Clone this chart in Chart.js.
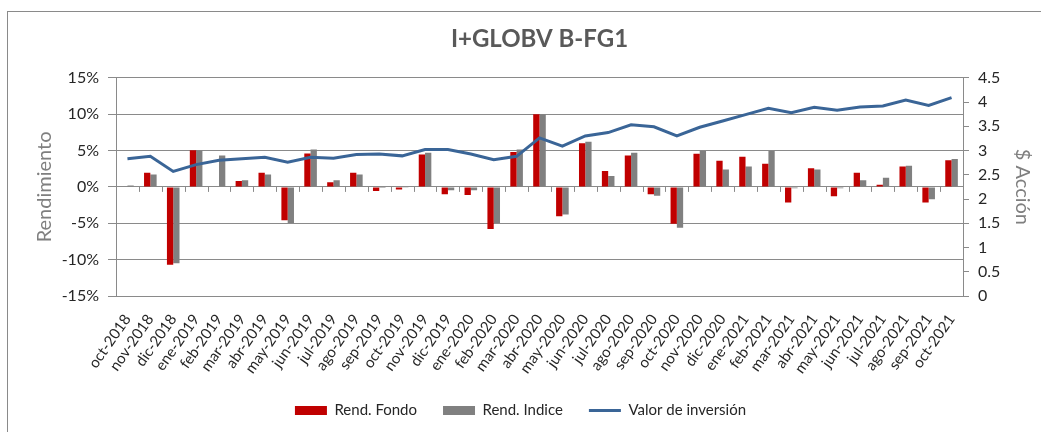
<!DOCTYPE html>
<html lang="es">
<head>
<meta charset="UTF-8">
<title>I+GLOBV B-FG1</title>
<script src="https://cdn.jsdelivr.net/npm/chart.js"></script>
<style>
    html, body { margin: 0; padding: 0; background: #ffffff; overflow: hidden; }
    .wrap { position: relative; width: 1041px; height: 432px; overflow: hidden; }
    .frame {
        position: absolute; left: 7px; top: 11px; width: 1100px; height: 500px;
        border: 1px solid #8a8a8a; box-sizing: border-box;
    }
    #grafico { position: absolute; left: 0; top: 0; }
</style>
</head>
<body>
<div class="wrap">
    <div class="frame"></div>
    <canvas id="grafico" width="1041" height="432"></canvas>
</div>
<script>
    // meses (oct-2018 .. oct-2021)
    const meses = ['oct-2018','nov-2018','dic-2018','ene-2019','feb-2019','mar-2019','abr-2019','may-2019',
        'jun-2019','jul-2019','ago-2019','sep-2019','oct-2019','nov-2019','dic-2019','ene-2020','feb-2020',
        'mar-2020','abr-2020','may-2020','jun-2020','jul-2020','ago-2020','sep-2020','oct-2020','nov-2020',
        'dic-2020','ene-2021','feb-2021','mar-2021','abr-2021','may-2021','jun-2021','jul-2021','ago-2021',
        'sep-2021','oct-2021'];

    // rendimientos mensuales en %
    const rendFondo = [0.05, 1.95, -10.7, 5.05, 0.05, 0.8, 1.95, -4.6, 4.6, 0.65, 1.95, -0.55, -0.35, 4.45,
        -1.0, -1.1, -5.8, 4.8, 10.0, -4.05, 6.0, 2.2, 4.3, -1.0, -5.05, 4.55, 3.6, 4.15, 3.2, -2.15, 2.55,
        -1.3, 1.95, 0.3, 2.8, -2.15, 3.65];
    const rendIndice = [0.2, 1.7, -10.5, 5.0, 4.3, 0.9, 1.7, -4.95, 5.15, 0.9, 1.7, -0.15, -0.1, 4.7,
        -0.45, -0.45, -4.95, 5.15, 10.0, -3.8, 6.2, 1.5, 4.7, -1.2, -5.6, 4.95, 2.4, 2.8, 4.95, -0.2, 2.4,
        -0.2, 0.9, 1.25, 2.9, -1.7, 3.85];

    // valor de la accion ($)
    const valorInversion = [2.83, 2.88, 2.57, 2.71, 2.80, 2.83, 2.86, 2.76, 2.86, 2.84, 2.92, 2.93, 2.89,
        3.02, 3.02, 2.93, 2.81, 2.88, 3.26, 3.09, 3.30, 3.37, 3.53, 3.49, 3.30, 3.48, 3.61, 3.74, 3.87, 3.78,
        3.89, 3.83, 3.90, 3.92, 4.04, 3.93, 4.09];

    const ticksIzq = [-15, -10, -5, 0, 5, 10, 15];
    const ticksDer = [0, 0.5, 1, 1.5, 2, 2.5, 3, 3.5, 4, 4.5];

    const GRIS = '#8a8a8a';
    const FUENTE = 'Lato, "Liberation Sans", sans-serif';

    // marcas pequenas sobre la linea del 0%
    const marcasCero = {
        id: 'marcasCero',
        beforeDatasetsDraw(chart) {
            const x = chart.scales.x, y = chart.scales.y;
            const y0 = y.getPixelForValue(0);
            const ctx = chart.ctx;
            ctx.save();
            ctx.strokeStyle = GRIS;
            ctx.lineWidth = 1;
            for (let i = 1; i < meses.length; i++) {
                const px = Math.round(x.getPixelForValue(i - 0.5)) + 0.5;
                ctx.beginPath();
                ctx.moveTo(px, y0);
                ctx.lineTo(px, y0 + 5);
                ctx.stroke();
            }
            ctx.restore();
        }
    };

    const ctx = document.getElementById('grafico').getContext('2d');
    const grafico = new Chart(ctx, {
        type: 'bar',
        data: {
            labels: meses,
            datasets: [
                { type: 'line', label: 'Valor de inversión', data: valorInversion, yAxisID: 'y1',
                  borderColor: '#3A6597', backgroundColor: '#3A6597', borderWidth: 3,
                  pointRadius: 0, tension: 0, pointStyle: 'line', order: 0 },
                { label: 'Rend. Fondo', data: rendFondo, yAxisID: 'y', backgroundColor: '#C00000',
                  borderWidth: 0, pointStyle: 'rect', order: 1,
                  categoryPercentage: 0.55, barPercentage: 1.0 },
                { label: 'Rend. Indice', data: rendIndice, yAxisID: 'y', backgroundColor: '#808080',
                  borderWidth: 0, pointStyle: 'rect', order: 1,
                  categoryPercentage: 0.55, barPercentage: 1.0 }
            ]
        },
        options: {
            responsive: false,
            animation: false,
            layout: { padding: { left: 0, right: 0, top: 0, bottom: 4 } },
            plugins: {
                title: {
                    display: true, text: 'I+GLOBV B-FG1', color: '#595959', fullSize: false,
                    font: { family: FUENTE, size: 24, weight: 'bold' },
                    padding: { top: 25, bottom: 24 }
                },
                legend: {
                    position: 'bottom',
                    labels: {
                        usePointStyle: true, pointStyleWidth: 32, boxHeight: 9,
                        padding: 26, color: '#262626',
                        font: { family: FUENTE, size: 15 },
                        sort: (a, b) => {
                            const o = [1, 2, 0];
                            return o.indexOf(a.datasetIndex) - o.indexOf(b.datasetIndex);
                        }
                    }
                },
                tooltip: { enabled: false }
            },
            scales: {
                x: {
                    afterFit: (s) => { s.height = 81; },
                    grid: { display: false },
                    border: { display: true, color: GRIS, width: 1 },
                    ticks: {
                        autoSkip: false, minRotation: 55, maxRotation: 55, padding: 7,
                        color: '#262626', font: { family: FUENTE, size: 15 }
                    }
                },
                y: {
                    position: 'left', min: -15, max: 15,
                    afterFit: (s) => { s.width = 116; },
                    afterBuildTicks: (s) => { s.ticks = ticksIzq.map(v => ({ value: v })); },
                    grid: { color: GRIS, lineWidth: 1, tickLength: 8, drawTicks: true },
                    border: { display: true, color: GRIS, width: 1 },
                    ticks: {
                        padding: 9, color: '#262626', font: { family: FUENTE, size: 16 },
                        callback: (v) => v + '%'
                    },
                    title: {
                        display: true, text: 'Rendimiento', color: '#7f7f7f',
                        font: { family: FUENTE, size: 20 }, padding: { top: 33 }
                    }
                },
                y1: {
                    position: 'right', min: 0, max: 4.5,
                    afterFit: (s) => { s.width = 78; },
                    afterBuildTicks: (s) => { s.ticks = ticksDer.map(v => ({ value: v })); },
                    grid: { drawOnChartArea: false, color: GRIS, tickLength: 6 },
                    border: { display: true, color: GRIS, width: 1 },
                    ticks: {
                        padding: 9, color: '#262626', font: { family: FUENTE, size: 16 },
                        callback: (v) => String(v)
                    },
                    title: {
                        display: true, text: '$ Acción', color: '#7f7f7f',
                        font: { family: FUENTE, size: 20 }, padding: { top: 7 }
                    }
                }
            }
        },
        plugins: [marcasCero]
    });
</script>
</body>
</html>
